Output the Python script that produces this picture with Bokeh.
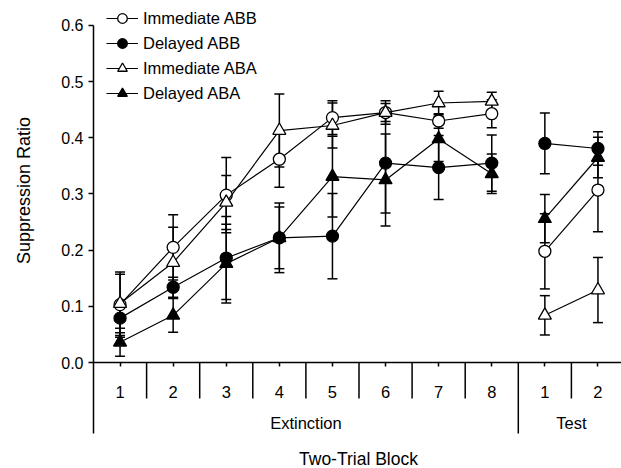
import math
from bokeh.plotting import figure
from bokeh.models import (Range1d, FixedTicker, NumeralTickFormatter, Legend, LegendItem,
                          Whisker, TeeHead, ColumnDataSource)
from bokeh.core.properties import value
from bokeh.embed import file_html
from bokeh.resources import INLINE

# ---- data ----
blocks = ["1", "2", "3", "4", "5", "6", "7", "8", "1", "2"]
phases = ["Extinction"] * 8 + ["Test"] * 2

imm_abb = [0.103, 0.205, 0.298, 0.362, 0.436, 0.445, 0.430, 0.443, 0.198, 0.307]
imm_abb_se = [0.058, 0.058, 0.067, 0.050, 0.030, 0.021, 0.013, 0.025, 0.067, 0.074]
del_abb = [0.079, 0.134, 0.186, 0.222, 0.225, 0.355, 0.347, 0.355, 0.390, 0.381]
del_abb_se = [0.031, 0.018, 0.074, 0.062, 0.076, 0.089, 0.057, 0.050, 0.054, 0.030]
imm_aba = [0.105, 0.178, 0.285, 0.413, 0.422, 0.445, 0.462, 0.465, 0.084, 0.129]
imm_aba_se = [0.052, 0.063, 0.048, 0.065, 0.040, 0.016, 0.021, 0.016, 0.035, 0.058]
del_aba = [0.036, 0.084, 0.176, 0.222, 0.331, 0.325, 0.398, 0.336, 0.256, 0.365]
del_aba_se = [0.025, 0.030, 0.070, 0.055, 0.072, 0.082, 0.040, 0.035, 0.043, 0.036]

y_ticks = [0.0, 0.1, 0.2, 0.3, 0.4, 0.5, 0.6]

FONT = "Liberation Sans"

W, H = 621, 468
# pixel layout of the axes inside the canvas
AX_LEFT_PX, ZERO_PX, STEP_PX, UNIT_PX = 93, 362, 53.1, 561.67
SEP_BOTTOM_PX, SHORT_SEP_PX = 433, 398

x0 = -0.5 - AX_LEFT_PX / STEP_PX
x1 = -0.5 + (W - AX_LEFT_PX) / STEP_PX
y1 = ZERO_PX / UNIT_PX
y0 = -(H - ZERO_PX) / UNIT_PX
y_sep_long = -(SEP_BOTTOM_PX - ZERO_PX) / UNIT_PX
y_sep_short = -(SHORT_SEP_PX - ZERO_PX) / UNIT_PX

xs = list(range(len(blocks)))
group_names = []
for ph in phases:
    if ph not in group_names:
        group_names.append(ph)
group_idx = {g: [i for i, ph in enumerate(phases) if ph == g] for g in group_names}
boundaries = [i + 0.5 for i in range(len(blocks) - 1)]
group_bounds = [group_idx[g][-1] + 0.5 for g in group_names[:-1]]
x_left = xs[0] - 0.5

p = figure(width=W, height=H, output_backend="svg", toolbar_location=None,
           x_range=Range1d(x0, x1), y_range=Range1d(y0, y1),
           min_border_left=0, min_border_right=0, min_border_top=0, min_border_bottom=0)
p.outline_line_color = None
p.xgrid.visible = False
p.ygrid.visible = False
p.background_fill_color = "white"
p.border_fill_color = "white"

# ---- y axis (at left edge of the blocks) ----
ya = p.yaxis[0]
ya.fixed_location = x_left
ya.ticker = FixedTicker(ticks=y_ticks)
ya.formatter = NumeralTickFormatter(format="0.0")
ya.major_tick_out = 5
ya.major_tick_in = 0
ya.minor_tick_out = 0
ya.minor_tick_in = 0
ya.major_label_standoff = 5
ya.axis_line_color = None
ya.major_tick_line_width = 1.5
ya.major_label_text_font = FONT
ya.major_label_text_font_size = "16px"
ya.major_label_text_color = "black"

# ---- x axis at y = 0 ----
xa = p.xaxis[0]
xa.fixed_location = 0
xa.ticker = FixedTicker(ticks=xs)
xa.major_label_overrides = {i: b for i, b in zip(xs, blocks)}
xa.major_tick_out = 4
xa.major_tick_in = 0
xa.minor_tick_out = 0
xa.minor_tick_in = 0
xa.major_label_standoff = 19
xa.axis_line_color = None
xa.major_tick_line_width = 1.5
xa.major_label_text_font = FONT
xa.major_label_text_font_size = "16.5px"
xa.major_label_text_color = "black"

# axis lines
p.segment(x0=[x_left], y0=[max(y_ticks)], x1=[x_left], y1=[y_sep_long],
          line_color="black", line_width=1.5)
p.segment(x0=[x_left], y0=[0], x1=[x1], y1=[0], line_color="black", line_width=1.5)

# block separators and group separators
short_b = [b for b in boundaries if b not in group_bounds]
p.segment(x0=short_b, y0=[0] * len(short_b), x1=short_b, y1=[y_sep_short] * len(short_b),
          line_color="black", line_width=1.5)
p.segment(x0=group_bounds, y0=[0] * len(group_bounds), x1=group_bounds,
          y1=[y_sep_long] * len(group_bounds), line_color="black", line_width=1.5)

gx = [sum(group_idx[g]) / len(group_idx[g]) for g in group_names]
p.text(x=gx, y=[-(422 - ZERO_PX) / UNIT_PX] * len(gx), text=group_names, text_align="center",
       text_baseline="middle", text_font=value(FONT), text_font_size="16.5px",
       text_color="black")

# ---- series ----
series = [
    ("Immediate ABB", imm_abb, imm_abb_se, "circle", "white", 12),
    ("Delayed ABB", del_abb, del_abb_se, "circle", "black", 12),
    ("Immediate ABA", imm_aba, imm_aba_se, "triangle", "white", 13),
    ("Delayed ABA", del_aba, del_aba_se, "triangle", "black", 13),
]

items = []
for name, vals, se, marker, fill, size in series:
    src = ColumnDataSource(dict(x=xs, y=vals,
                                upper=[v + s for v, s in zip(vals, se)],
                                lower=[v - s for v, s in zip(vals, se)]))
    w = Whisker(source=src, base="x", upper="upper", lower="lower",
                line_color="black", line_width=1.5, level="underlay",
                upper_head=TeeHead(size=10, line_width=1.5, line_color="black"),
                lower_head=TeeHead(size=10, line_width=1.5, line_color="black"))
    p.add_layout(w)
    mxs = [[xs[i] for i in group_idx[g]] for g in group_names]
    mys = [[vals[i] for i in group_idx[g]] for g in group_names]
    lr = p.multi_line(xs=mxs, ys=mys, line_color="black", line_width=1.2)
    sr = p.scatter(x="x", y="y", source=src, marker=marker, size=size,
                   fill_color=fill, line_color="black", line_width=1.3)
    items.append(LegendItem(label=name, renderers=[lr, sr]))

legend = Legend(items=items, location=(106, 363), glyph_width=32, glyph_height=24,
                label_height=24, spacing=1, padding=0, margin=0, label_standoff=5,
                border_line_color=None, background_fill_alpha=0,
                label_text_font=FONT, label_text_font_size="16.5px",
                label_text_color="black")
p.add_layout(legend)

# ---- axis titles ----
p.text(x=[x_left - (93 - 23) / STEP_PX], y=[(ZERO_PX - 190) / UNIT_PX],
       text=["Suppression Ratio"], angle=math.pi / 2, text_align="center",
       text_baseline="middle", text_font=value(FONT), text_font_size="18px",
       text_color="black")
p.text(x=[x_left + (358 - 93) / STEP_PX], y=[-(458 - ZERO_PX) / UNIT_PX],
       text=["Two-Trial Block"], text_align="center", text_baseline="middle",
       text_font=value(FONT), text_font_size="17.5px", text_color="black")

open("out.html", "w").write(file_html(p, INLINE))
